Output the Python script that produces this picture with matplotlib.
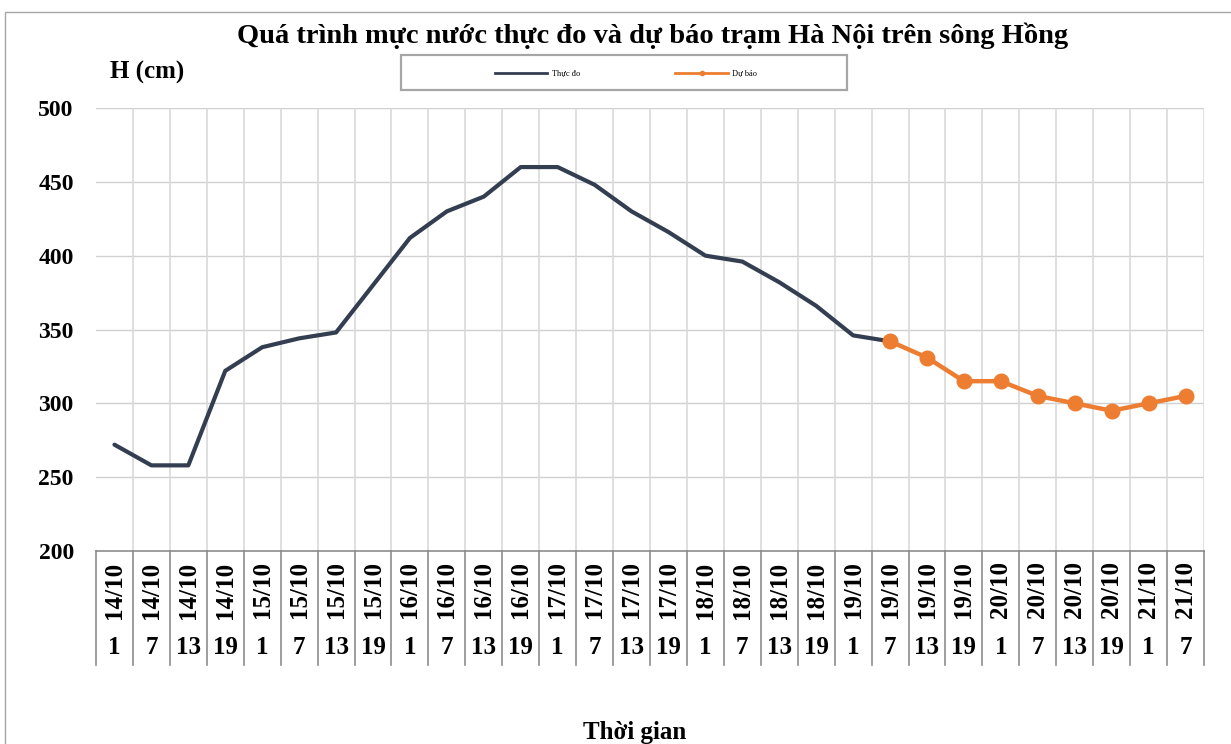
import matplotlib
matplotlib.use("Agg")
import matplotlib.pyplot as plt
from matplotlib.lines import Line2D
from matplotlib.patches import Rectangle
import matplotlib.transforms as mtransforms

plt.rcParams['font.family'] = ['Liberation Serif', 'DejaVu Serif']

dates = ["14/10"] * 4 + ["15/10"] * 4 + ["16/10"] * 4 + ["17/10"] * 4 + \
        ["18/10"] * 4 + ["19/10"] * 4 + ["20/10"] * 4 + ["21/10"] * 2
hours = ["1", "7", "13", "19"] * 7 + ["1", "7"]

observed = [272, 258, 258, 322, 338, 344, 348, 380, 412, 430, 440, 460, 460,
            448, 430, 416, 400, 396, 382, 366, 346, 342]
forecast = [342, 331, 315, 315, 305, 300, 295, 300, 305]
forecast_start = 21

title = "Quá trình mực nước thực đo và dự báo trạm Hà Nội trên sông Hồng"
ylabel = "H (cm)"
xlabel = "Thời gian"
legend_labels = ["Thực đo", "Dự báo"]

c_obs = "#333f50"
c_fc = "#ed7d31"

W, H = 1231, 744
fig = plt.figure(figsize=(W / 100, H / 100), dpi=100)

# outer chart border
fig.patches.append(Rectangle((5 / W, -0.1), 1.2, 1 - 12 / H + 0.1, transform=fig.transFigure,
                             fill=False, edgecolor="#a6a6a6", linewidth=1.0))

left, right, top, bottom = 96, 1204, 108, 551
ax = fig.add_axes([left / W, 1 - bottom / H, (right - left) / W, (bottom - top) / H])

n = len(dates)
x = list(range(n))
ax.set_xlim(-0.5, n - 0.5)
ax.set_ylim(200, 500)
ax.set_yticks(range(200, 501, 50))
ax.set_yticklabels([str(v) for v in range(200, 501, 50)], fontsize=17, fontweight="bold")
ax.tick_params(axis="y", length=0, pad=16)
ax.tick_params(axis="x", length=0, labelbottom=False)

for v in range(250, 501, 50):
    ax.axhline(v, color="#d0d0d0", linewidth=1.0, zorder=0)
for b in range(1, n + 1):
    ax.axvline(b - 0.5, color="#d9d9d9", linewidth=1.2, zorder=0)

for s in ["top", "right", "left"]:
    ax.spines[s].set_visible(False)
ax.spines["bottom"].set_color("#8c8c8c")
ax.spines["bottom"].set_linewidth(1.2)

ax.plot(x[:len(observed)], observed, color=c_obs, linewidth=3.0, solid_joinstyle="round",
        solid_capstyle="round", zorder=3)
xf = x[forecast_start:forecast_start + len(forecast)]
ax.plot(xf, forecast, color=c_fc, linewidth=3.2, marker="o", markersize=10.5, zorder=4)

# category axis labels
trans = mtransforms.blended_transform_factory(ax.transData, ax.transAxes)
axh = bottom - top
y_sep = (bottom - 665) / axh
y_date = (bottom - 590) / axh
y_hour = (bottom - 648) / axh
for b in range(0, n + 1):
    ax.plot([b - 0.5, b - 0.5], [0, y_sep], transform=trans, color="#8c8c8c",
            linewidth=1.2, clip_on=False)
for i in range(n):
    ax.text(i, y_date, dates[i], transform=trans, rotation=90, ha="center", va="center",
            fontsize=18, fontweight="bold")
    ax.text(i, y_hour, hours[i], transform=trans, ha="center", va="center",
            fontsize=18, fontweight="bold")

fig.text(653 / W, 1 - 36 / H, title, ha="center", va="center", fontsize=20.5, fontweight="bold")
fig.text(147 / W, 1 - 72 / H, ylabel, ha="center", va="center", fontsize=18, fontweight="bold")
fig.text(635 / W, 1 - 732 / H, xlabel, ha="center", va="center", fontsize=18, fontweight="bold")

# legend
fig.patches.append(Rectangle((401 / W, 1 - 90 / H), 446 / W, 35 / H, transform=fig.transFigure,
                             fill=False, edgecolor="#a6a6a6", linewidth=1.6))
ly = 1 - 73 / H
fig.lines.append(Line2D([495 / W, 547 / W], [ly, ly], transform=fig.transFigure,
                        color=c_obs, linewidth=2.0))
fig.text(552 / W, ly, legend_labels[0], ha="left", va="center", fontsize=6)
fig.lines.append(Line2D([675 / W, 728 / W], [ly, ly], transform=fig.transFigure,
                        color=c_fc, linewidth=2.0))
fig.lines.append(Line2D([701.5 / W], [ly], transform=fig.transFigure, color=c_fc,
                        marker="o", markersize=3))
fig.text(732 / W, ly, legend_labels[1], ha="left", va="center", fontsize=6)

fig.savefig("out.png", dpi=100)
